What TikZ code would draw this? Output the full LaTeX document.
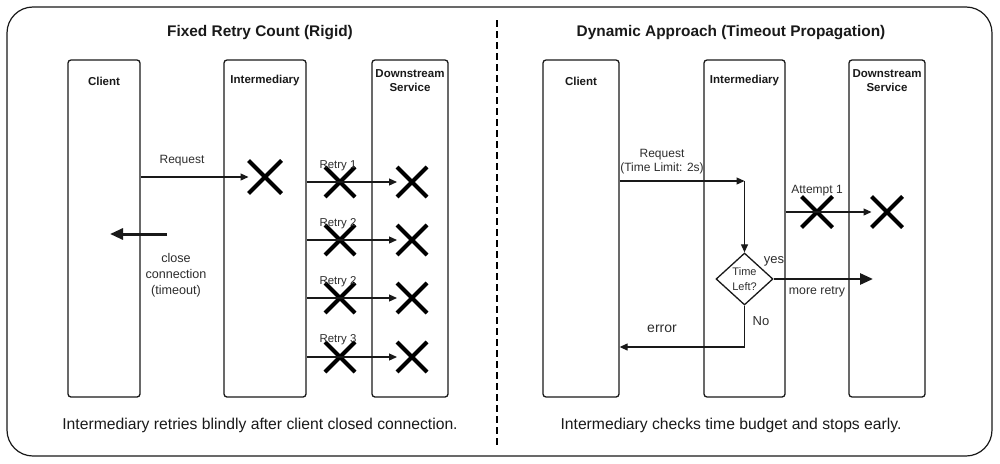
\documentclass[tikz,border=0pt]{standalone}
\usepackage{fontspec}
\setmainfont{Liberation Sans}
\usepackage{tikz}
\usetikzlibrary{shapes.geometric, shapes.misc, arrows.meta, positioning, calc}
\definecolor{inkdark}{RGB}{25,25,25}
\definecolor{inkgray}{RGB}{45,45,45}

\begin{document}
\begin{tikzpicture}[x=1pt, y=-1pt,
    lane/.style={rectangle, rounded corners=3pt, draw=inkdark, line width=1.3pt,
        minimum width=#1, minimum height=337pt, inner sep=0pt},
    lanetext/.style={align=center, font=\fontsize{11.5}{14}\selectfont\bfseries, text=inkdark},
    headtext/.style={font=\fontsize{15.4}{18}\selectfont\bfseries, text=inkdark},
    foottext/.style={font=\fontsize{15.7}{18}\selectfont, text=inkdark},
    lbl/.style={align=center, font=\fontsize{12}{14}\selectfont, text=inkgray},
    xmark/.style={cross out, draw=black, line width=4pt, minimum size=#1, inner sep=0pt},
    timecheck/.style={diamond, draw=inkdark, line width=1.3pt, minimum width=57pt,
        minimum height=52pt, inner sep=0pt, align=center,
        font=\fontsize{11}{15}\selectfont, text=inkgray},
    arr/.style={-{Triangle[length=8pt, width=7pt]}, line width=1.2pt, inkdark},
    bigarr/.style={-{Triangle[length=13pt, width=11pt]}, line width=3pt, inkdark}
]
\useasboundingbox (0,0) rectangle (1000,463);

% Frame and divider
\draw[inkdark, line width=1.2pt, rounded corners=26pt] (7,7) rectangle (992,456);
\draw[black, line width=2.6pt, dash pattern=on 7pt off 4pt] (497,20) -- (497,447);

% Titles
\node[headtext] (tl) at (260,33) {Fixed Retry Count (Rigid)};
\node[headtext] (tr) at (731,33) {Dynamic Approach (Timeout Propagation)};

% Left: lanes
\node[lane=72pt] (lc) at (104,228.5) {};
\node[lane=82pt] (li) at (265,228.5) {};
\node[lane=76pt] (ld) at (410,228.5) {};
\node[lanetext] at (104,81) {Client};
\node[lanetext] at (265,81) {Intermediary};
\node[lanetext] at (410,81) {Downstream\\Service};

% Left: request dies at intermediary
\node[xmark=29pt] (lx) at (265,177) {};
\draw[arr] (lc.east |- lx) -- (lx.west);
\node[lbl] at (182,161) {Request};

% Left: client gives up
\coordinate (ccstart) at (167,234);
\coordinate (ccend) at (110,234);
\draw[bigarr] (ccstart) -- (ccend);
\node[lbl, font=\fontsize{12.6}{16}\selectfont] at (176,275) {close\\connection\\(timeout)};

% Left: blind retries
\node[xmark=26pt] (r1a) at (340,182) {};
\node[xmark=26pt] (r1b) at (412,182) {};
\node[xmark=26pt] (r2a) at (340,240) {};
\node[xmark=26pt] (r2b) at (412,240) {};
\node[xmark=26pt] (r3a) at (340,298) {};
\node[xmark=26pt] (r3b) at (412,298) {};
\node[xmark=26pt] (r4a) at (340,357) {};
\node[xmark=26pt] (r4b) at (412,357) {};
\draw[arr] (li.east |- r1b) -- (r1b.west);
\draw[arr] (li.east |- r2b) -- (r2b.west);
\draw[arr] (li.east |- r3b) -- (r3b.west);
\draw[arr] (li.east |- r4b) -- (r4b.west);
\node[lbl, font=\fontsize{11.4}{14}\selectfont] at (338,166) {Retry 1};
\node[lbl, font=\fontsize{11.4}{14}\selectfont] at (338,224) {Retry 2};
\node[lbl, font=\fontsize{11.4}{14}\selectfont] at (338,282) {Retry 2};
\node[lbl, font=\fontsize{11.4}{14}\selectfont] at (338,340) {Retry 3};

\node[foottext] at (260,425) {Intermediary retries blindly after client closed connection.};

% Right: lanes
\node[lane=76pt] (rc) at (581,228.5) {};
\node[lane=81pt] (ri) at (744.5,228.5) {};
\node[lane=76pt] (rd) at (887,228.5) {};
\node[lanetext] at (581,81) {Client};
\node[lanetext] at (744.5,81) {Intermediary};
\node[lanetext] at (887,81) {Downstream\\Service};

% Right: request with time budget
\node[timecheck] (dia) at (744.5,279) {Time\\Left?};
\coordinate (turn) at (744.5,181);
\draw[arr] (rc.east |- turn) -- (turn);
\draw[arr] (turn) -- (dia.north);
\node[lbl] at (662,162) {Request\\(Time Limit: 2s)};

% Right: first attempt
\node[xmark=27pt] (a1) at (817,212) {};
\node[xmark=27pt] (a2) at (887,212) {};
\draw[arr] (ri.east |- a2) -- (a2.west);
\node[lbl] at (817,191) {Attempt 1};

% Right: decision
\coordinate (more) at (873,279);
\draw[bigarr, line width=2.8pt] (dia.east) -- (more);
\node[lbl, font=\fontsize{13}{15}\selectfont] at (774,261) {yes};
\node[lbl, font=\fontsize{12.3}{14}\selectfont] at (817,292) {more retry};
\coordinate (nobend) at (744.5,347);
\draw[arr] (dia.south) -- (nobend) -- (rc.east |- nobend);
\node[lbl, font=\fontsize{13}{15}\selectfont] at (761,321) {No};
\node[lbl, font=\fontsize{14}{16}\selectfont] at (662,329) {error};

\node[foottext] at (731,425) {Intermediary checks time budget and stops early.};

\end{tikzpicture}
\end{document}
